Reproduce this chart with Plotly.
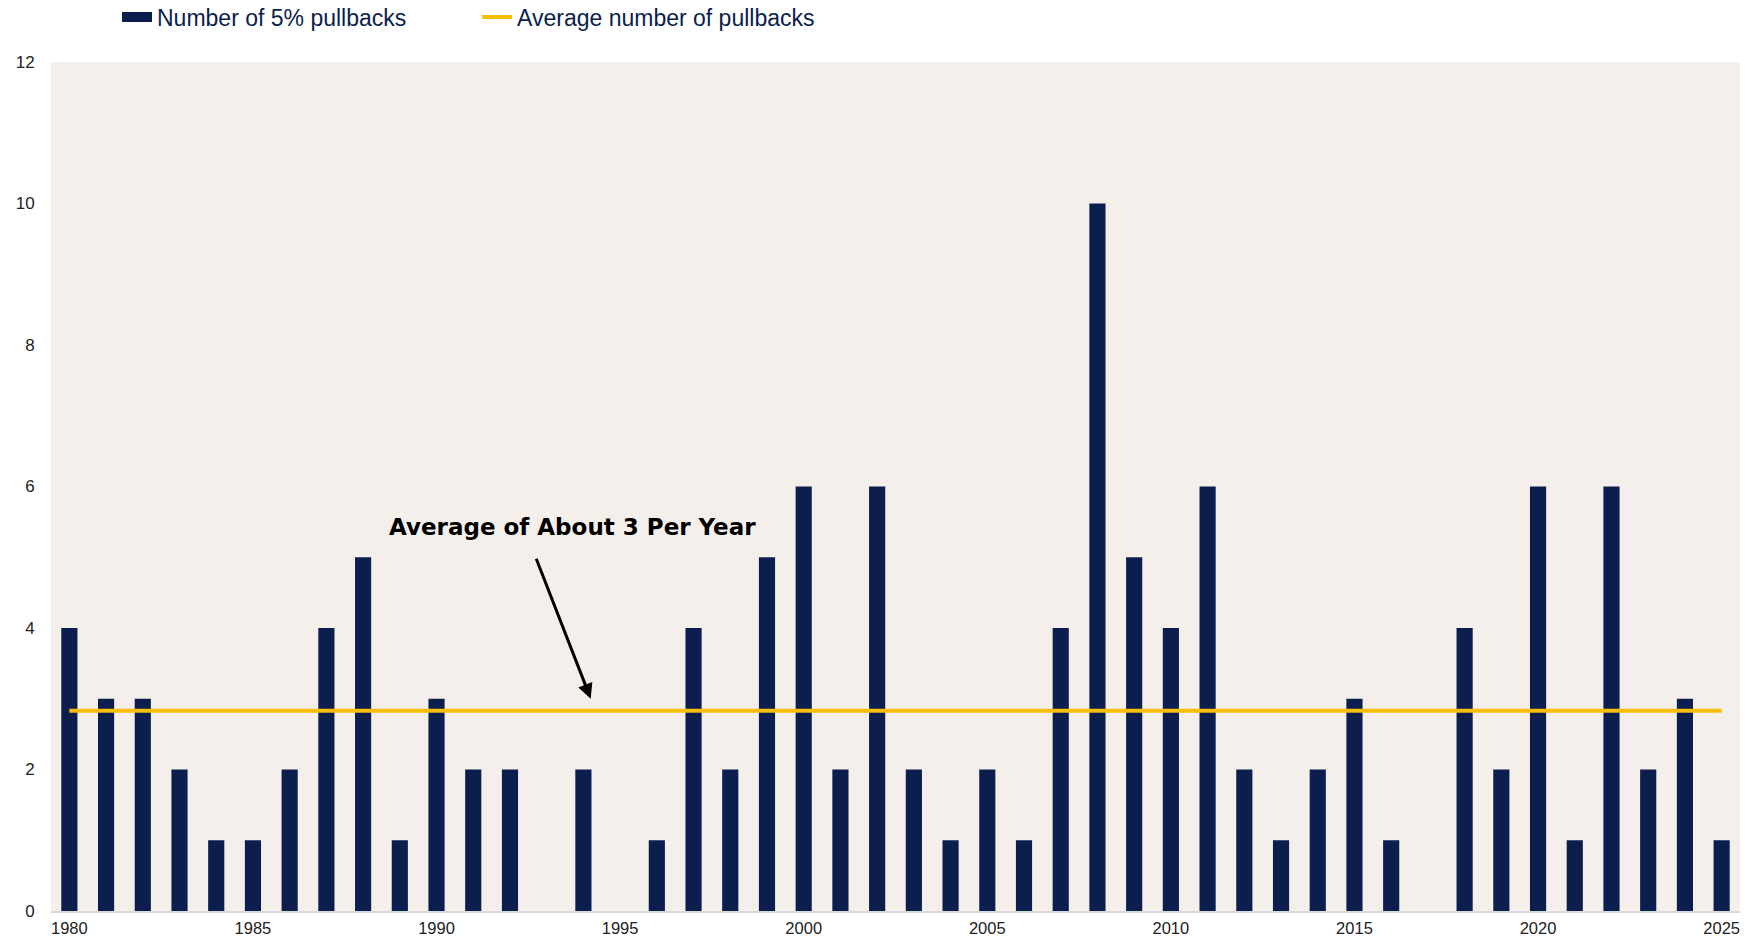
import plotly.graph_objects as go

years = list(range(1980, 2026))
pullbacks = [4, 3, 3, 2, 1, 1, 2, 4, 5, 1,
             3, 2, 2, 0, 2, 0, 1, 4, 2, 5,
             6, 2, 6, 2, 1, 2, 1, 4, 10, 5,
             4, 6, 2, 1, 2, 3, 1, 0, 4, 2,
             6, 1, 6, 2, 3, 1]
avg_pullbacks = 2.83
x_ticks = list(range(1980, 2030, 5))
y_ticks = list(range(0, 14, 2))

navy = '#0B1E4E'
gold = '#F6BE0B'

fig = go.Figure()
fig.add_trace(go.Bar(x=years, y=pullbacks, name='Number of 5% pullbacks',
                     marker=dict(color=navy, line=dict(width=0)),
                     width=0.44, showlegend=False))
# wide legend swatch for the bars (legend-only proxy)
fig.add_trace(go.Scatter(x=[None], y=[None], mode='lines', name='Number of 5% pullbacks',
                         line=dict(color=navy, width=12), legend='legend'))
fig.add_trace(go.Scatter(x=[years[0], years[-1]], y=[avg_pullbacks, avg_pullbacks],
                         mode='lines', name='Average number of pullbacks',
                         line=dict(color=gold, width=4), legend='legend2'))

# arrow + label
fig.add_annotation(x=1994.2, y=3.0, ax=1992.7, ay=5.0, xref='x', yref='y',
                   axref='x', ayref='y', text='', showarrow=True,
                   arrowhead=2, arrowsize=1, arrowwidth=3, arrowcolor='black')
fig.add_annotation(x=1993.7, y=5.43, xref='x', yref='y', text='<b>Average of About 3 Per Year</b>',
                   showarrow=False, font=dict(family='DejaVu Sans', size=23, color='black'))

leg = dict(orientation='h', xanchor='left', y=1 - 17 / 940, yanchor='middle', xref='container',
           yref='container', font=dict(size=23, color=navy), itemwidth=30,
           bgcolor='rgba(0,0,0,0)')

fig.update_layout(
    width=1745, height=940,
    margin=dict(l=51, r=5, t=62, b=29),
    paper_bgcolor='white',
    plot_bgcolor='#F4EFEB',
    font=dict(family='Liberation Sans', size=17, color='#222222'),
    legend=dict(leg, x=117 / 1745),
    legend2=dict(leg, x=477 / 1745),
    showlegend=True,
    xaxis=dict(range=[1979.5, 2025.5], tickvals=x_ticks, showgrid=False,
               showline=True, linecolor='#D9D9D9', linewidth=2, automargin=False,
               ticks='outside', ticklen=1, tickcolor='rgba(0,0,0,0)',
               tickfont=dict(size=16.5, color='#222222'), zeroline=False),
    yaxis=dict(range=[0, 12], tickvals=y_ticks, showgrid=False, zeroline=False,
               ticks='outside', ticklen=12, tickcolor='rgba(0,0,0,0)', automargin=False,
               tickfont=dict(size=17, color='#222222')),
)

fig.write_html('out.html', config={'displayModeBar': False},
               post_script="document.body.style.margin='0';")
